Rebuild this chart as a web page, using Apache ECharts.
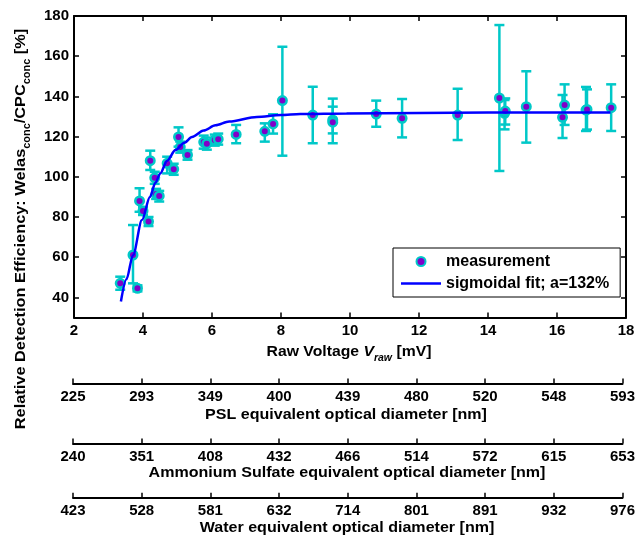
<!DOCTYPE html>
<html>
<head>
<meta charset="utf-8">
<script src="https://cdn.jsdelivr.net/npm/echarts@6/dist/echarts.min.js"></script>
<style>
html,body{margin:0;padding:0;background:#fff;}
#chart{width:638px;height:537px;}
</style>
</head>
<body>
<div id="chart"></div>
<script>
// Measurement data (raw voltage in mV, relative efficiency in %)
const xValues = [3.34, 3.71, 3.84, 3.90, 4.00, 4.16, 4.21, 4.34, 4.38, 4.47, 4.70, 4.89, 5.03, 5.08, 5.29,
  5.76, 5.85, 6.08, 6.18, 6.70, 7.53, 7.77, 8.04, 8.92, 9.50, 9.50, 10.76, 11.51, 13.12, 14.33, 14.48, 14.50,
  15.11, 16.16, 16.22, 16.84, 16.87, 17.57];
const yValues = [47.0, 61.1, 44.5, 88.0, 83.0, 77.7, 108.0, 99.5, 91.5, 90.5, 106.7, 103.8, 119.8, 114.8, 110.9,
  117.3, 116.5, 118.3, 118.7, 121.1, 122.6, 126.3, 137.9, 130.7, 128.3, 127.2, 131.2, 129.1, 130.7, 139.2, 131.6, 132.7,
  134.9, 129.6, 135.7, 133.2, 133.5, 134.4];
const errLow = [43.8, 47.0, 43.0, 82.6, 81.0, 75.5, 103.4, 96.5, 89.0, 87.7, 101.7, 101.0, 115.0, 112.0, 108.5,
  114.0, 113.5, 115.5, 116.0, 116.7, 117.5, 121.5, 110.5, 116.7, 121.6, 116.7, 124.9, 119.6, 118.3, 102.9, 123.6, 126.0,
  117.0, 119.3, 125.8, 122.8, 123.5, 122.8];
const errHigh = [50.3, 76.0, 46.0, 94.3, 85.0, 80.0, 113.0, 102.5, 94.0, 93.0, 110.0, 106.5, 124.6, 117.5, 113.3,
  120.5, 119.5, 121.0, 121.5, 125.8, 126.6, 131.1, 164.7, 144.8, 134.9, 138.9, 137.9, 138.7, 143.8, 175.5, 138.2, 139.0,
  152.5, 140.7, 146.0, 144.7, 143.5, 146.0];

// Sigmoidal fit curve
const fitX = [3.36, 3.52, 3.71, 3.97, 4.20, 4.36, 4.50, 4.70, 4.94, 5.20, 5.42, 5.76, 6.10, 6.50, 7.30, 8.00, 8.56, 9.90, 12.00, 14.00, 17.55];
const fitY = [38.0, 49.0, 61.0, 78.5, 90.0, 97.0, 101.7, 108.0, 113.3, 117.0, 119.8, 123.0, 125.6, 127.5, 129.8, 130.7, 131.2, 131.5, 131.8, 132.0, 132.0];

// Tick labels
const yTickValues = [40, 60, 80, 100, 120, 140, 160, 180];
const pslLabels = ['225', '293', '349', '400', '439', '480', '520', '548', '593'];
const ammLabels = ['240', '351', '408', '432', '466', '514', '572', '615', '653'];
const waterLabels = ['423', '528', '581', '632', '714', '801', '891', '932', '976'];

const FONT = "'Liberation Sans', Arial, Helvetica, sans-serif";
const CYAN = '#00c8c8';
const PURPLE = '#8000c8';
const BLUE = '#0000ff';

const labelStyle = { color: '#000', fontSize: 15, fontWeight: 'bold', fontFamily: FONT };

function extraAxis(gridIndex, data) {
  return {
    type: 'category', gridIndex: gridIndex, position: 'bottom', data: data, boundaryGap: false,
    axisLine: { show: true, lineStyle: { color: '#000', width: 2 } },
    axisTick: { show: true, inside: true, length: 5, interval: 0, lineStyle: { color: '#000', width: 1.5 } },
    axisLabel: Object.assign({ interval: 0, margin: 6 }, labelStyle),
    splitLine: { show: false }
  };
}

const chart = echarts.init(document.getElementById('chart'), null, { renderer: 'canvas' });

const titleStyle = { fontSize: 15, fontWeight: 'bold', fontFamily: FONT, fill: '#000' };

const option = {
  animation: false,
  backgroundColor: '#fff',
  grid: [
    { left: 74, top: 16, width: 552, height: 301.5 },
    { left: 73, top: 381.5, width: 550, height: 2 },
    { left: 73, top: 441.5, width: 550, height: 2 },
    { left: 73, top: 495.7, width: 550, height: 2 }
  ],
  xAxis: [
    {
      type: 'value', gridIndex: 0, position: 'bottom', min: 2, max: 18, interval: 2,
      axisLine: { show: true, onZero: false, lineStyle: { color: '#000', width: 2 } },
      axisTick: { show: true, inside: true, length: 5, lineStyle: { color: '#000', width: 1.5 } },
      axisLabel: Object.assign({ margin: 6 }, labelStyle),
      splitLine: { show: false }
    },
    {
      type: 'value', gridIndex: 0, position: 'top', min: 2, max: 18, interval: 2,
      axisLine: { show: true, onZero: false, lineStyle: { color: '#000', width: 2 } },
      axisTick: { show: true, inside: true, length: 5, lineStyle: { color: '#000', width: 1.5 } },
      axisLabel: { show: false },
      splitLine: { show: false }
    },
    extraAxis(1, pslLabels),
    extraAxis(2, ammLabels),
    extraAxis(3, waterLabels)
  ],
  yAxis: [
    {
      type: 'value', gridIndex: 0, position: 'left', min: 30, max: 180,
      axisLine: { show: true, onZero: false, lineStyle: { color: '#000', width: 2 } },
      axisTick: { show: true, inside: true, length: 5, customValues: yTickValues, lineStyle: { color: '#000', width: 1.5 } },
      axisLabel: Object.assign({ margin: 5, customValues: yTickValues }, labelStyle),
      splitLine: { show: false }
    },
    {
      type: 'value', gridIndex: 0, position: 'right', min: 30, max: 180,
      axisLine: { show: true, onZero: false, lineStyle: { color: '#000', width: 2 } },
      axisTick: { show: true, inside: true, length: 5, customValues: yTickValues, lineStyle: { color: '#000', width: 1.5 } },
      axisLabel: { show: false },
      splitLine: { show: false }
    },
    { type: 'value', gridIndex: 1, show: false },
    { type: 'value', gridIndex: 2, show: false },
    { type: 'value', gridIndex: 3, show: false }
  ],
  legend: {
    data: [
      { name: 'measurement' },
      { name: 'sigmoidal fit; a=132%', icon: 'path://M0,0H40V2.5H0Z', itemStyle: { color: BLUE, borderWidth: 0 } }
    ],
    orient: 'vertical',
    left: 393, top: 248,
    padding: [5, 11, 5, 8],
    itemWidth: 40, itemHeight: 9, itemGap: 5,
    borderColor: '#000', borderWidth: 1, backgroundColor: '#fff',
    textStyle: { color: '#000', fontSize: 16, fontWeight: 'bold', fontFamily: FONT, lineHeight: 17 }
  },
  series: [
    {
      type: 'custom', name: 'errorbars', xAxisIndex: 0, yAxisIndex: 0, z: 1,
      data: xValues.map((x, i) => [x, errLow[i], errHigh[i]]),
      encode: { x: 0, y: [1, 2] },
      renderItem: function (params, api) {
        const x = api.value(0);
        const lo = api.coord([x, api.value(1)]);
        const hi = api.coord([x, api.value(2)]);
        const hw = 5;
        const style = { stroke: CYAN, lineWidth: 2.5 };
        return {
          type: 'group',
          children: [
            { type: 'line', shape: { x1: lo[0], y1: lo[1], x2: hi[0], y2: hi[1] }, style: style },
            { type: 'line', shape: { x1: lo[0] - hw, y1: lo[1], x2: lo[0] + hw, y2: lo[1] }, style: style },
            { type: 'line', shape: { x1: hi[0] - hw, y1: hi[1], x2: hi[0] + hw, y2: hi[1] }, style: style }
          ]
        };
      }
    },
    {
      type: 'scatter', name: 'measurement', xAxisIndex: 0, yAxisIndex: 0, z: 2,
      symbol: 'circle', symbolSize: 8.5,
      itemStyle: { color: PURPLE, borderColor: CYAN, borderWidth: 2.5, opacity: 1 },
      data: xValues.map((x, i) => [x, yValues[i]])
    },
    {
      type: 'line', name: 'sigmoidal fit; a=132%', xAxisIndex: 0, yAxisIndex: 0, z: 3,
      symbol: 'none', showSymbol: false, smooth: 0.3, smoothMonotone: 'x',
      lineStyle: { color: BLUE, width: 2.5 },
      itemStyle: { color: BLUE },
      data: fitX.map((x, i) => [x, fitY[i]])
    }
  ],
  graphic: [
    {
      type: 'text', x: 349, y: 352, scaleX: 1.05,
      style: {
        text: '{n|Raw Voltage }{i|V}{s|raw}{n| [mV]}',
        align: 'center', verticalAlign: 'middle',
        rich: {
          n: { fontSize: 15, fontWeight: 'bold', fontFamily: FONT, fill: '#000', lineHeight: 22, verticalAlign: 'middle' },
          i: { fontSize: 15, fontWeight: 'bold', fontStyle: 'italic', fontFamily: FONT, fill: '#000', lineHeight: 22, verticalAlign: 'middle' },
          s: { fontSize: 10, fontWeight: 'bold', fontStyle: 'italic', fontFamily: FONT, fill: '#000', lineHeight: 10, verticalAlign: 'bottom' }
        }
      }
    },
    {
      type: 'text', x: 346, y: 415, scaleX: 1.07,
      style: Object.assign({ text: 'PSL equivalent optical diameter [nm]', align: 'center', verticalAlign: 'middle' }, titleStyle)
    },
    {
      type: 'text', x: 347, y: 473, scaleX: 1.07,
      style: Object.assign({ text: 'Ammonium Sulfate equivalent optical diameter [nm]', align: 'center', verticalAlign: 'middle' }, titleStyle)
    },
    {
      type: 'text', x: 347, y: 528, scaleX: 1.07,
      style: Object.assign({ text: 'Water equivalent optical diameter [nm]', align: 'center', verticalAlign: 'middle' }, titleStyle)
    },
    {
      type: 'text', x: 21, y: 229, rotation: Math.PI / 2, scaleX: 1.09,
      style: {
        text: '{n|Relative Detection Efficiency: Welas}{s|conc}{n|/CPC}{s|conc}{n| [%]}',
        align: 'center', verticalAlign: 'middle',
        rich: {
          n: { fontSize: 15, fontWeight: 'bold', fontFamily: FONT, fill: '#000', lineHeight: 22, verticalAlign: 'middle' },
          s: { fontSize: 10, fontWeight: 'bold', fontFamily: FONT, fill: '#000', lineHeight: 10, verticalAlign: 'bottom' }
        }
      }
    }
  ]
};

chart.setOption(option);
</script>
</body>
</html>
